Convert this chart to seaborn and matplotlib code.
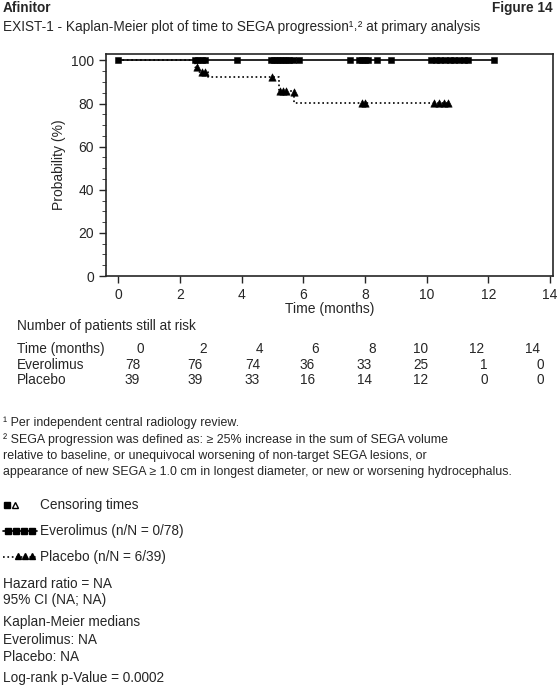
import numpy as np
import pandas as pd
import matplotlib
matplotlib.use("Agg")
import matplotlib.pyplot as plt
import seaborn as sns
from matplotlib.lines import Line2D

sns.set_style("ticks")
plt.rcParams['font.family'] = ['Liberation Sans', 'DejaVu Sans']

# Kaplan-Meier step curves (time, probability %)
evero_t = [0, 12.2]
evero_p = [100, 100]
evero_cens_t = [0, 2.5, 2.6, 2.7, 2.8, 3.85, 4.95, 5.05, 5.15, 5.25, 5.35, 5.45, 5.55, 5.65, 5.86,
                7.5, 7.8, 7.9, 8.0, 8.1, 8.4, 8.85, 10.15, 10.3, 10.45, 10.6, 10.75, 10.9, 11.05, 11.2, 11.35, 12.2]
placebo_t = [0, 2.5, 2.6, 2.9, 5.2, 5.7, 10.75]
placebo_p = [100, 96.8, 94.5, 92.3, 86.0, 80.3, 80.3]
placebo_cens_t = [2.55, 2.7, 2.8, 5.0, 5.25, 5.35, 5.45, 5.7, 7.9, 8.0, 10.25, 10.4, 10.55, 10.7]
placebo_cens_p = [96.8, 94.5, 94.5, 92.3, 86.0, 86.0, 86.0, 85.5, 80.3, 80.3, 80.3, 80.3, 80.3, 80.3]

risk_times = ["0", "2", "4", "6", "8", "10", "12", "14"]
risk_evero = ["78", "76", "74", "36", "33", "25", "1", "0"]
risk_placebo = ["39", "39", "33", "16", "14", "12", "0", "0"]

W, H = 559, 690
fig = plt.figure(figsize=(W/100, H/100), dpi=100)
def fx(px): return px / W
def fy(py): return 1 - py / H

ax = fig.add_axes([fx(106), fy(276), fx(553) - fx(106), fy(54) - fy(276)])
ev = pd.DataFrame({"t": evero_t, "p": evero_p})
pl = pd.DataFrame({"t": placebo_t, "p": placebo_p})
sns.lineplot(data=ev, x="t", y="p", drawstyle="steps-post", color="black", lw=1.2, ax=ax, estimator=None)
sns.lineplot(data=pl, x="t", y="p", drawstyle="steps-post", color="black", lw=1.2, ls=":", ax=ax, estimator=None)
sns.scatterplot(x=evero_cens_t, y=[100]*len(evero_cens_t), marker="s", s=22, color="black", edgecolor="black", ax=ax)
sns.scatterplot(x=placebo_cens_t, y=placebo_cens_p, marker="^", s=28, color="black", edgecolor="black", ax=ax)
ax.set_xlim(-0.4, 14.1)
ax.set_ylim(0, 103)
ax.set_xticks(range(0, 15, 2))
ax.set_yticks(range(0, 101, 20))
ax.set_yticks(range(0, 101, 5), minor=True)
ax.tick_params(labelsize=10, direction="out", length=5, width=1)
ax.tick_params(which="minor", length=3)
ax.set_xlabel("Time (months)", fontsize=10, labelpad=0)
ax.set_ylabel("Probability (%)", fontsize=10)
for s in ax.spines.values():
    s.set_linewidth(1.2)

fs = 9.8
fig.text(fx(3), fy(8), "Afinitor", fontsize=fs, weight="bold", va="center")
fig.text(fx(553), fy(8), "Figure 14", fontsize=fs, weight="bold", va="center", ha="right")
fig.text(fx(3), fy(27), "EXIST-1 - Kaplan-Meier plot of time to SEGA progression¹˒² at primary analysis", fontsize=fs, va="center")
fig.text(fx(17), fy(326), "Number of patients still at risk", fontsize=fs, va="center")
xs = [140, 203, 260, 315, 372, 428, 484, 540]
rows = [("Time (months)", risk_times, 349), ("Everolimus", risk_evero, 365), ("Placebo", risk_placebo, 380)]
for lab, vals, y in rows:
    fig.text(fx(17), fy(y), lab, fontsize=fs, va="center")
    for x, v in zip(xs, vals):
        fig.text(fx(x), fy(y), v, fontsize=fs, va="center", ha="right" if len(v) > 1 else "center")

ffs = 8.9
foot = [(423, "¹ Per independent central radiology review."),
        (440, "² SEGA progression was defined as: ≥ 25% increase in the sum of SEGA volume"),
        (456, "relative to baseline, or unequivocal worsening of non-target SEGA lesions, or"),
        (472, "appearance of new SEGA ≥ 1.0 cm in longest diameter, or new or worsening hydrocephalus.")]
for y, t in foot:
    fig.text(fx(3), fy(y), t, fontsize=ffs, va="center")

# legend
fig.add_artist(Line2D([fx(7)], [fy(505)], marker="s", ms=4, color="black", ls="none"))
fig.add_artist(Line2D([fx(15)], [fy(505)], marker="^", ms=4.5, mfc="white", color="black", ls="none"))
fig.text(fx(40), fy(505), "Censoring times", fontsize=fs, va="center")
fig.add_artist(Line2D([fx(3), fx(37)], [fy(531)]*2, color="black", lw=1.2))
fig.add_artist(Line2D([fx(8), fx(16), fx(24), fx(32)], [fy(531)]*4, marker="s", ms=4, color="black", ls="none"))
fig.text(fx(40), fy(531), "Everolimus (n/N = 0/78)", fontsize=fs, va="center")
fig.add_artist(Line2D([fx(3), fx(37)], [fy(557)]*2, color="black", lw=1.2, ls=":"))
fig.add_artist(Line2D([fx(18), fx(25), fx(32)], [fy(556)]*3, marker="^", ms=4.5, color="black", ls="none"))
fig.text(fx(40), fy(557), "Placebo (n/N = 6/39)", fontsize=fs, va="center")

for y, t in [(584, "Hazard ratio = NA"), (600, "95% CI (NA; NA)"), (622, "Kaplan-Meier medians"),
             (640, "Everolimus: NA"), (657, "Placebo: NA"), (678, "Log-rank p-Value = 0.0002")]:
    fig.text(fx(3), fy(y), t, fontsize=fs, va="center")

fig.savefig("out.png", dpi=100)
